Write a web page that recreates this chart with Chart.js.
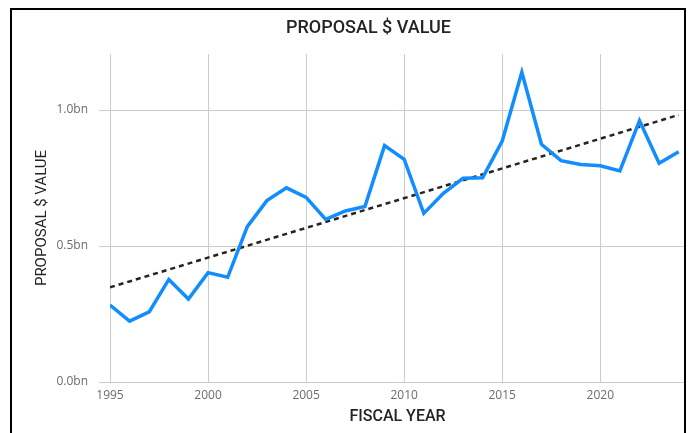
<!DOCTYPE html>
<html>
<head>
<meta charset="utf-8">
<script src="https://cdn.jsdelivr.net/npm/chart.js@4/dist/chart.umd.min.js"></script>
<style>
  body { margin: 0; background: #fff; }
  #wrap { position: relative; width: 693px; height: 433px; overflow: hidden; }
  #frame { position: absolute; left: 10px; top: 8px; width: 672px; height: 440px;
    border: 2px solid #000; border-bottom: none; pointer-events: none; }
</style>
</head>
<body>
<div id="wrap">
  <canvas id="chart"></canvas>
  <div id="frame"></div>
</div>
<script>
'use strict'

// ************* Data ****************
let years = [1995, 1996, 1997, 1998, 1999, 2000, 2001, 2002, 2003, 2004,
  2005, 2006, 2007, 2008, 2009, 2010, 2011, 2012, 2013, 2014,
  2015, 2016, 2017, 2018, 2019, 2020, 2021, 2022, 2023, 2024];
// proposal value in billions
let values = [0.283, 0.224, 0.258, 0.377, 0.305, 0.402, 0.385, 0.571, 0.667, 0.714,
  0.679, 0.598, 0.629, 0.645, 0.869, 0.819, 0.620, 0.694, 0.749, 0.751,
  0.886, 1.139, 0.874, 0.814, 0.800, 0.795, 0.776, 0.961, 0.804, 0.847];
// trend line end points
let trendYears = [1995, 2024];
let trendValues = [0.348, 0.982];
let yTicks = [0, 0.5, 1.0];

let chart = document.getElementById('chart');

function makePoints(xs, ys) {
  let pts = [];
  for (let i = 0; i < xs.length; i++) {
    pts.push({ x: xs[i], y: ys[i] });
  }
  return pts;
}

let dinFont = 'Roboto, "DejaVu Sans", sans-serif';
let tickFont = '"Open Sans", "Noto Sans", sans-serif';

let myChart = new Chart(chart, {
  type: 'line',
  data: {
    datasets: [{
      label: 'Proposal $ Value',
      data: makePoints(years, values),
      borderColor: '#118DFF',
      borderWidth: 3.5,
      pointRadius: 0,
      tension: 0,
      borderJoinStyle: 'miter'
    }, {
      label: 'Trend',
      data: makePoints(trendYears, trendValues),
      borderColor: '#252423',
      borderWidth: 2.5,
      borderDash: [5, 4],
      pointRadius: 0
    }]
  },
  options: {
    responsive: true,
    maintainAspectRatio: false,
    animation: false,
    // left padding shifts the title centre over the plot like the original
    layout: { padding: { left: 52, right: 8, top: 0, bottom: 0 } },
    plugins: {
      legend: { display: false },
      tooltip: { enabled: false },
      title: {
        display: true,
        text: 'PROPOSAL $ VALUE',
        color: '#252423',
        font: { family: dinFont, size: 18, weight: '500' },
        padding: { top: 18, bottom: 14.4 }
      }
    },
    scales: {
      x: {
        type: 'linear',
        min: 1995,
        max: 2024.32,
        grid: { color: '#CCCCCC', drawTicks: false },
        border: { display: false },
        ticks: {
          stepSize: 5,
          includeBounds: false,
          padding: 6,
          color: '#6E6C6A',
          font: { family: tickFont, size: 12 },
          callback: function (v) { return String(v); }
        },
        title: {
          display: true,
          text: 'FISCAL YEAR',
          color: '#252423',
          font: { family: dinFont, size: 16, weight: '500' },
          padding: { top: 0, bottom: 6.4 }
        },
        afterFit: function (scale) { scale.height = 51; }
      },
      y: {
        min: 0,
        max: 1.206,
        grid: { color: '#CCCCCC', tickLength: 11 },
        border: { display: false },
        afterBuildTicks: function (scale) {
          scale.ticks = yTicks.map(function (v) { return { value: v }; });
        },
        ticks: {
          padding: 11,
          color: '#6E6C6A',
          font: { family: tickFont, size: 12 },
          callback: function (v) { return v.toFixed(1) + 'bn'; }
        },
        title: {
          display: true,
          text: 'PROPOSAL $ VALUE',
          color: '#252423',
          font: { family: dinFont, size: 15 },
          padding: { top: -19, bottom: 0 }
        },
        afterFit: function (scale) { scale.width = 58; }
      }
    }
  }
});
</script>
</body>
</html>
